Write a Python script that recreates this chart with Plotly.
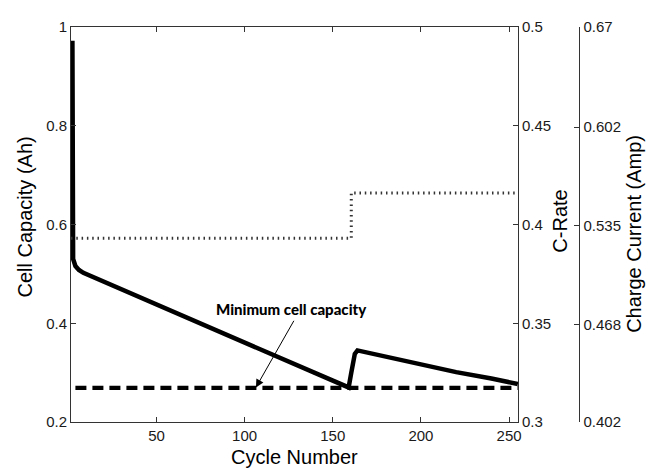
import plotly.graph_objects as go

# ---- data ----
cycles_cap = [2.3, 2.4, 2.5, 2.7, 4, 6, 8.5, 13, 22, 40, 60, 80, 100, 120, 140, 159,
              160.5, 162.5, 164, 180, 198, 220, 240, 255]
capacity = [0.972, 0.86, 0.64, 0.53, 0.516, 0.508, 0.502, 0.495, 0.482, 0.454, 0.423,
            0.392, 0.361, 0.330, 0.299, 0.270, 0.30, 0.338, 0.345, 0.332, 0.318, 0.301,
            0.288, 0.277]

cycles_rate = [1.5, 160.5, 160.5, 255]
c_rate = [0.393, 0.393, 0.416, 0.416]

cycles_min = [4, 255]
min_capacity = [0.269, 0.269]

charge_current = [0.527, 0.527, 0.557, 0.557]

x_ticks = [50, 100, 150, 200, 250]
cap_ticks = [0.2, 0.4, 0.6, 0.8, 1]
rate_ticks = [0.3, 0.35, 0.4, 0.45, 0.5]
current_ticks = [0.402, 0.468, 0.535, 0.602, 0.67]
current_ticklabels = ["0.402", "0.468", "0.535", "0.602", "0.67"]

FONT = "Liberation Sans, Arial, sans-serif"
AX = "#333333"
TXT = "#1a1a1a"

# page body has an 8px margin; plot area sits at page x 71..521, y 19..422
W, H = 649, 462
L, T, B, R = 63, 11, 48, 10
PW = W - L - R   # 576
PH = H - T - B   # 403

def px(xp):
    return (xp - 71) / PW

def py(yp):
    return (422 - yp) / PH

fig = go.Figure()
fig.add_trace(go.Scatter(x=cycles_rate, y=c_rate, yaxis="y2", mode="lines",
                         line=dict(color="#333333", width=3, dash="1.5px,3.8px"),
                         hoverinfo="skip", showlegend=False))
fig.add_trace(go.Scatter(x=cycles_rate, y=charge_current, yaxis="y3", mode="lines",
                         line=dict(color="rgba(0,0,0,0)", width=0),
                         hoverinfo="skip", showlegend=False))
fig.add_trace(go.Scatter(x=cycles_min, y=min_capacity, mode="lines",
                         line=dict(color="black", width=4.3, dash="11px,6px"),
                         hoverinfo="skip", showlegend=False))
fig.add_trace(go.Scatter(x=cycles_cap, y=capacity, mode="lines",
                         line=dict(color="black", width=4.5),
                         hoverinfo="skip", showlegend=False))

dom_end = 450 / PW
fig.update_layout(
    width=W, height=H,
    margin=dict(l=L, r=R, t=T, b=B),
    plot_bgcolor="white", paper_bgcolor="white",
    font=dict(family=FONT, size=15, color=TXT),
    xaxis=dict(domain=[0, dom_end], range=[1.5, 255], tickvals=x_ticks,
               ticks="inside", ticklen=5, tickcolor=AX, showline=True, linecolor=AX,
               linewidth=1, mirror="ticks", showgrid=False, zeroline=False,
               tickfont=dict(size=15, color=TXT)),
    yaxis=dict(range=[0.2, 1], tickvals=cap_ticks, ticktext=["0.2", "0.4", "0.6", "0.8", "1"],
               ticks="inside", ticklen=5, tickcolor=AX, showline=True, linecolor=AX,
               linewidth=1, showgrid=False, zeroline=False,
               tickfont=dict(size=15, color=TXT)),
    yaxis2=dict(range=[0.3, 0.5], tickvals=rate_ticks, ticktext=["0.3", "0.35", "0.4", "0.45", "0.5"],
                overlaying="y", side="right", anchor="x",
                ticks="inside", ticklen=5, tickcolor=AX, showline=True, linecolor=AX,
                linewidth=1, showgrid=False, zeroline=False,
                tickfont=dict(size=15, color=TXT)),
    yaxis3=dict(range=[0.402, 0.67], tickvals=current_ticks, ticktext=current_ticklabels,
                overlaying="y", side="right", anchor="free", position=px(583),
                ticks="inside", ticklen=5, tickcolor=AX, showline=True, linecolor=AX,
                linewidth=1, showgrid=False, zeroline=False,
                tickfont=dict(size=15, color=TXT)),
)

title_font = dict(family=FONT, size=20, color="black")
annos = [
    dict(text="Cell Capacity (Ah)", x=px(25), y=py(213), textangle=-90),
    dict(text="Cycle Number", x=px(296), y=py(458), textangle=0),
    dict(text="C-Rate", x=px(563), y=py(217), textangle=-90),
    dict(text="Charge Current (Amp)", x=px(638), y=py(230), textangle=-90),
]
for a in annos:
    fig.add_annotation(xref="paper", yref="paper", showarrow=False,
                       xanchor="center", yanchor="middle", font=title_font, **a)

fig.add_annotation(x=126.7, y=0.428, xref="x", yref="y", text="Minimum cell capacity",
                   showarrow=False, xanchor="center", yanchor="middle",
                   font=dict(family="Lato, Liberation Sans, sans-serif",
                             size=15, color="black", weight=900))
fig.add_annotation(x=106.4, y=0.27, xref="x", yref="y", ax=128.4, ay=0.408,
                   axref="x", ayref="y", text="", showarrow=True, arrowhead=2,
                   arrowsize=1.6, arrowwidth=1, arrowcolor="black")

fig.write_html("out.html")
